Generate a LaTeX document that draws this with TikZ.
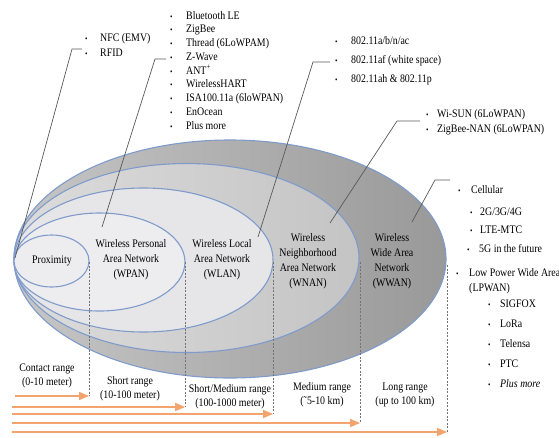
\documentclass[tikz,border=0pt]{standalone}
\usepackage{fontspec}
\setmainfont{Liberation Serif}[FakeStretch=0.86]
\usepackage{tikz}
\usetikzlibrary{arrows,shapes,positioning,calc}
\definecolor{zoneedge}{HTML}{7F9BCB}
\definecolor{outerlight}{HTML}{C6C6C6}
\definecolor{outerdark}{HTML}{999999}
\definecolor{wnanlight}{HTML}{DCDCDC}
\definecolor{wnandark}{HTML}{C4C4C4}
\definecolor{wlanfill}{HTML}{E6E6E8}
\definecolor{wpanfill}{HTML}{EDEDEF}
\definecolor{rangeorange}{HTML}{F2A36E}
\tikzset{
  zone/.style={draw=zoneedge, line width=1.1pt},
  lbl/.style={align=center, inner sep=0pt, font=\fontsize{11.5}{15}\selectfont},
  li/.style={anchor=base west, inner sep=0pt, font=\fontsize{11.5}{14}\selectfont},
  lead/.style={draw=black!65, line width=0.7pt},
  reach/.style={draw=rangeorange, line width=1.3pt, -triangle 45},
  cut/.style={draw=black!55, dash pattern=on 2pt off 1.5pt, line width=0.7pt},
}
\newcommand{\bul}[1]{\makebox[#1][l]{\footnotesize\textbullet}}

\begin{document}
\begin{tikzpicture}[x=1pt, y=-1pt]
    \useasboundingbox (0,0) rectangle (559,437);

    % nested coverage zones
    \path[zone, left color=outerlight, right color=outerdark] (230,259) ellipse (216 and 119);
    \path[zone, left color=wnanlight, right color=wnandark] (186.5,258) ellipse (172.5 and 94.5);
    \path[zone, fill=wlanfill] (143.5,260) ellipse (129.5 and 72);
    \path[zone, fill=wpanfill] (99.5,262) ellipse (85.5 and 49);
    \path[zone, fill=wpanfill] (51.5,261) ellipse (37.5 and 26);

    \node[lbl] (prox) at (52, 261) {Proximity};
    \node[lbl] (wpan) at (131, 260) {Wireless Personal\\Area Network\\(WPAN)};
    \node[lbl] (wlan) at (222, 260) {Wireless Local\\Area Network\\(WLAN)};
    \node[lbl] (wnan) at (308, 261) {Wireless\\Neighborhood\\Area Network\\(WNAN)};
    \node[lbl] (wwan) at (392, 261) {Wireless\\Wide Area\\Network\\(WWAN)};

    % range limits
    \coordinate (proxR) at (89, 262) ;
    \coordinate (wpanR) at (185, 262) ;
    \coordinate (wlanR) at (273, 262) ;
    \coordinate (wnanR) at (360, 262) ;
    \coordinate (wwanR) at (447, 265) ;

    \coordinate (contactS) at (15, 396) ;
    \coordinate (shortS)   at (12, 407) ;
    \coordinate (smedS)    at (12, 414) ;
    \coordinate (mediumS)  at (12, 423) ;
    \coordinate (longS)    at (12, 432) ;

    \draw[cut] (proxR) -- (proxR |- contactS);
    \draw[cut] (wpanR) -- (wpanR |- shortS);
    \draw[cut] (wlanR) -- (wlanR |- smedS);
    \draw[cut] (wnanR) -- (wnanR |- mediumS);
    \draw[cut] (wwanR) -- (wwanR |- longS);

    \draw[reach] (contactS) -- (proxR |- contactS);
    \draw[reach] (shortS) -- (wpanR |- shortS);
    \draw[reach] (smedS) -- (wlanR |- smedS);
    \draw[reach] (mediumS) -- (wnanR |- mediumS);
    \draw[reach] (longS) -- (wwanR |- longS);

    \node[lbl, font=\fontsize{11.5}{14}\selectfont] (contact) at (47, 376) {Contact range\\(0-10 meter)};
    \node[lbl, font=\fontsize{11.5}{14}\selectfont] (short) at (130, 389) {Short range\\(10-100 meter)};
    \node[lbl, font=\fontsize{11.5}{14}\selectfont] (smed) at (230, 397) {Short/Medium range\\(100-1000 meter)};
    \node[lbl, font=\fontsize{11.5}{14}\selectfont] (medium) at (322, 395) {Medium range\\(˜5-10 km)};
    \node[lbl, font=\fontsize{11.5}{14}\selectfont] (long) at (405, 395) {Long range\\(up to 100 km)};

    % technology lists
    \node[li] (nfc)  at (85, 41) {\bul{15pt}NFC (EMV)};
    \node[li] (rfid) at (85, 56) {\bul{15pt}RFID};

    \node[li] (ble)    at (170, 19) {\bul{16pt}Bluetooth LE};
    \node[li] (zigbee) at (170, 32.75) {\bul{16pt}ZigBee};
    \node[li] (thread) at (170, 46.5) {\bul{16pt}Thread (6LoWPAM)};
    \node[li] (zwave)  at (170, 60.25) {\bul{16pt}Z-Wave};
    \node[li] (ant)    at (170, 74) {\bul{16pt}ANT\textsuperscript{+}};
    \node[li] (whart)  at (170, 87.75) {\bul{16pt}WirelessHART};
    \node[li] (isa)    at (170, 101.5) {\bul{16pt}ISA100.11a (6loWPAN)};
    \node[li] (enocean) at (170, 115.25) {\bul{16pt}EnOcean};
    \node[li] (pmA)    at (170, 129) {\bul{16pt}Plus more};

    \node[li] (wifiA) at (335, 44) {\bul{16pt}802.11a/b/n/ac};
    \node[li] (wifiB) at (335, 63) {\bul{16pt}802.11af (white space)};
    \node[li] (wifiC) at (335, 82) {\bul{16pt}802.11ah \& 802.11p};

    \node[li] (wisun)  at (426, 117) {\bul{11pt}Wi-SUN (6LoWPAN)};
    \node[li] (zbnan)  at (426, 132) {\bul{11pt}ZigBee-NAN (6LoWPAN)};

    \node[li] (cell)   at (458, 193) {\bul{13pt}Cellular};
    \node[li] (gen)    at (470, 215) {\bul{10pt}2G/3G/4G};
    \node[li] (ltem)   at (470, 233) {\bul{10pt}LTE-MTC};
    \node[li] (fiveg)  at (467, 252) {\bul{12pt}5G in the future};
    \node[li] (lpwa)   at (456, 276) {\bul{13pt}Low Power Wide Area};
    \node[li] (lpwan)  at (469, 291) {(LPWAN)};
    \node[li] (sigfox) at (488, 307) {\bul{12pt}SIGFOX};
    \node[li] (lora)   at (488, 327) {\bul{12pt}LoRa};
    \node[li] (telensa) at (488, 347) {\bul{12pt}Telensa};
    \node[li] (ptc)    at (488, 367) {\bul{12pt}PTC};
    \node[li] (pmB)    at (488, 387) {\bul{12pt}\textit{Plus more}};

    % leaders
    \coordinate (proxT) at (15, 258) ;
    \coordinate (proxB) at (72, 49) ;
    \coordinate (proxE) at (82, 49) ;
    \draw[lead] (proxT) -- (proxB) -- (proxE);

    \coordinate (wpanT) at (102, 227) ;
    \coordinate (wpanB) at (155, 59) ;
    \coordinate (wpanE) at (166, 59) ;
    \draw[lead] (wpanT) -- (wpanB) -- (wpanE);

    \coordinate (wlanT) at (258, 237) ;
    \coordinate (wlanB) at (313, 62) ;
    \coordinate (wlanE) at (330, 62) ;
    \draw[lead] (wlanT) -- (wlanB) -- (wlanE);

    \coordinate (wnanT) at (330, 223) ;
    \coordinate (wnanB) at (397, 121) ;
    \coordinate (wnanE) at (420, 121) ;
    \draw[lead] (wnanT) -- (wnanB) -- (wnanE);

    \coordinate (wwanT) at (412, 222) ;
    \coordinate (wwanB) at (435, 180) ;
    \coordinate (wwanE) at (450, 180) ;
    \draw[lead] (wwanT) -- (wwanB) -- (wwanE);

\end{tikzpicture}
\end{document}
